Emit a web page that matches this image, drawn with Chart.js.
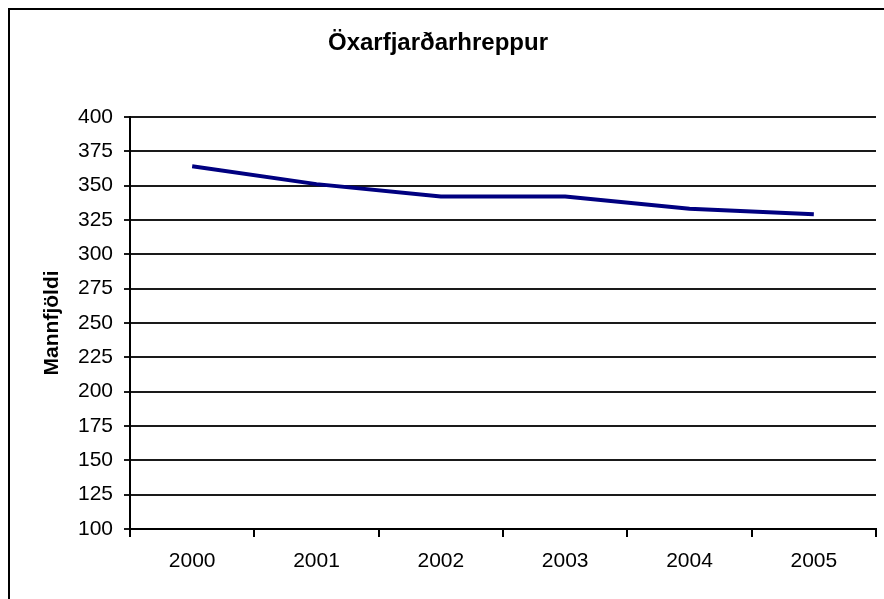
<!DOCTYPE html>
<html>
<head>
<meta charset="utf-8">
<script src="https://cdn.jsdelivr.net/npm/chart.js@4"></script>
<style>
  html, body { margin: 0; padding: 0; background: #fff; }
  #wrap { position: relative; width: 884px; height: 599px; overflow: hidden; }
  #frame { position: absolute; left: 8px; top: 8px; width: 900px; height: 620px; border: 2px solid #000; }
  canvas { position: absolute; left: 0; top: 0; }
</style>
</head>
<body>
<div id="wrap">
  <div id="frame"></div>
  <canvas id="chart" width="884" height="599"></canvas>
</div>
<script>
const years = ["2000", "2001", "2002", "2003", "2004", "2005"];
const population = [364, 351, 342, 342, 333, 329];
const yMin = 100;
const yMax = 400;
const yStep = 25;

const font = "'Liberation Sans', Arial, sans-serif";

new Chart(document.getElementById("chart"), {
  type: "line",
  data: {
    labels: years,
    datasets: [{
      label: "Mannfjöldi",
      data: population,
      borderColor: "#000080",
      borderWidth: 4,
      pointRadius: 0,
      tension: 0,
      fill: false,
    }],
  },
  options: {
    responsive: false,
    animation: false,
    layout: { padding: { left: 0, right: 8, top: 0, bottom: 0 } },
    plugins: {
      legend: { display: false },
      tooltip: { enabled: false },
      title: {
        display: true,
        text: "Öxarfjarðarhreppur",
        color: "#000",
        font: { family: font, size: 24, weight: "bold" },
        padding: { top: 29, bottom: 59 },
      },
    },
    scales: {
      x: {
        offset: true,
        grid: { display: true, offset: true, drawOnChartArea: false, drawTicks: true, tickLength: 8, color: "#000", lineWidth: 2 },
        border: { display: true, color: "#000", width: 2 },
        ticks: { color: "#000", font: { family: font, size: 21 }, padding: 12, maxRotation: 0 },
        afterFit: (s) => { s.height = 70; },
      },
      y: {
        min: yMin,
        max: yMax,
        grid: { color: "#1a1a1a", lineWidth: 2, tickLength: 6 },
        border: { display: true, color: "#000", width: 2 },
        ticks: { stepSize: yStep, color: "#000", font: { family: font, size: 21 }, padding: 11 },
        title: {
          display: true,
          text: "Mannfjöldi",
          color: "#000",
          font: { family: font, size: 21, weight: "bold" },
          padding: { top: 40, bottom: 0 },
        },
        afterFit: (s) => { s.width = 130; },
      },
    },
  },
});
</script>
</body>
</html>
